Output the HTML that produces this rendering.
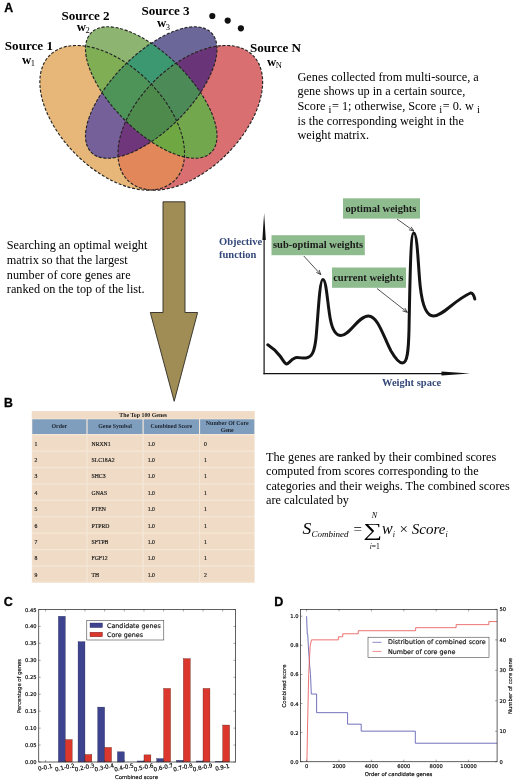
<!DOCTYPE html>
<html><head><meta charset="utf-8"><title>Figure</title>
<style>
html,body{margin:0;padding:0;background:#fff;}
svg{display:block}
.ser{font-family:"Liberation Serif",serif;}
.sans{font-family:"Liberation Sans",sans-serif;stroke:#000;stroke-width:0.3px;}
.dj{font-family:"DejaVu Sans","Liberation Sans",sans-serif;stroke:#000;stroke-width:0.15px;}
</style></head><body>
<svg width="520" height="782" viewBox="0 0 520 782">
<rect width="520" height="782" fill="#ffffff"/>

<defs>
<clipPath id="c1"><ellipse cx="112.2" cy="117.8" rx="88.4" ry="51.5" transform="rotate(45 112.2 117.8)" /></clipPath>
<clipPath id="c2"><ellipse cx="151.25" cy="92.5" rx="84.75" ry="38.2" transform="rotate(45 151.25 92.5)" /></clipPath>
<clipPath id="c3"><ellipse cx="151.25" cy="92.5" rx="84.75" ry="38.2" transform="rotate(-45 151.25 92.5)" /></clipPath>
<clipPath id="c4"><ellipse cx="190.3" cy="117.8" rx="88.4" ry="51.5" transform="rotate(-45 190.3 117.8)" /></clipPath>
</defs>
<ellipse cx="112.2" cy="117.8" rx="88.4" ry="51.5" transform="rotate(45 112.2 117.8)" fill="#E6B778"/>
<ellipse cx="151.25" cy="92.5" rx="84.75" ry="38.2" transform="rotate(45 151.25 92.5)" fill="#8DB571"/>
<ellipse cx="151.25" cy="92.5" rx="84.75" ry="38.2" transform="rotate(-45 151.25 92.5)" fill="#6C6799"/>
<ellipse cx="190.3" cy="117.8" rx="88.4" ry="51.5" transform="rotate(-45 190.3 117.8)" fill="#D96F70"/>
<g clip-path="url(#c1)"><ellipse cx="151.25" cy="92.5" rx="84.75" ry="38.2" transform="rotate(45 151.25 92.5)" fill="#7FAE55"/></g>
<g clip-path="url(#c1)"><ellipse cx="151.25" cy="92.5" rx="84.75" ry="38.2" transform="rotate(-45 151.25 92.5)" fill="#75609A"/></g>
<g clip-path="url(#c1)"><ellipse cx="190.3" cy="117.8" rx="88.4" ry="51.5" transform="rotate(-45 190.3 117.8)" fill="#E1875A"/></g>
<g clip-path="url(#c2)"><ellipse cx="151.25" cy="92.5" rx="84.75" ry="38.2" transform="rotate(-45 151.25 92.5)" fill="#3B9871"/></g>
<g clip-path="url(#c2)"><ellipse cx="190.3" cy="117.8" rx="88.4" ry="51.5" transform="rotate(-45 190.3 117.8)" fill="#72A74E"/></g>
<g clip-path="url(#c3)"><ellipse cx="190.3" cy="117.8" rx="88.4" ry="51.5" transform="rotate(-45 190.3 117.8)" fill="#6A3578"/></g>
<g clip-path="url(#c2)"><g clip-path="url(#c1)"><ellipse cx="151.25" cy="92.5" rx="84.75" ry="38.2" transform="rotate(-45 151.25 92.5)" fill="#4E9358"/></g></g>
<g clip-path="url(#c2)"><g clip-path="url(#c1)"><ellipse cx="190.3" cy="117.8" rx="88.4" ry="51.5" transform="rotate(-45 190.3 117.8)" fill="#6FA743"/></g></g>
<g clip-path="url(#c3)"><g clip-path="url(#c1)"><ellipse cx="190.3" cy="117.8" rx="88.4" ry="51.5" transform="rotate(-45 190.3 117.8)" fill="#70367B"/></g></g>
<g clip-path="url(#c3)"><g clip-path="url(#c2)"><ellipse cx="190.3" cy="117.8" rx="88.4" ry="51.5" transform="rotate(-45 190.3 117.8)" fill="#4C8A57"/></g></g>
<g clip-path="url(#c3)"><g clip-path="url(#c2)"><g clip-path="url(#c1)"><ellipse cx="190.3" cy="117.8" rx="88.4" ry="51.5" transform="rotate(-45 190.3 117.8)" fill="#4D8A4B"/></g></g></g>
<ellipse cx="112.2" cy="117.8" rx="88.4" ry="51.5" transform="rotate(45 112.2 117.8)" fill="none" stroke="#242424" stroke-width="1.15" stroke-dasharray="3 1.7"/>
<ellipse cx="190.3" cy="117.8" rx="88.4" ry="51.5" transform="rotate(-45 190.3 117.8)" fill="none" stroke="#242424" stroke-width="1.15" stroke-dasharray="3 1.7"/>
<ellipse cx="151.25" cy="92.5" rx="84.75" ry="38.2" transform="rotate(-45 151.25 92.5)" fill="none" stroke="#242424" stroke-width="1.15" stroke-dasharray="3 1.7"/>
<ellipse cx="151.25" cy="92.5" rx="84.75" ry="38.2" transform="rotate(45 151.25 92.5)" fill="none" stroke="#242424" stroke-width="1.15" stroke-dasharray="3 1.7"/>
<text x="4.2" y="11.6" class="sans" font-size="12.3" font-weight="bold" fill="#000" text-anchor="start" >A</text>
<text x="4.8" y="50.4" class="ser" font-size="13.1" font-weight="bold" fill="#000" text-anchor="start" >Source 1</text>
<text x="22" y="63.5" class="ser" font-size="12.8" font-weight="bold">w<tspan font-size="8.5" font-weight="normal" dy="2.5" dx="-0.6">1</tspan></text>
<text x="61.5" y="19.8" class="ser" font-size="13.1" font-weight="bold" fill="#000" text-anchor="start" >Source 2</text>
<text x="76.8" y="30.8" class="ser" font-size="12.8" font-weight="bold">w<tspan font-size="8.5" font-weight="normal" dy="2.5" dx="-0.6">2</tspan></text>
<text x="141.5" y="14.9" class="ser" font-size="13.1" font-weight="bold" fill="#000" text-anchor="start" >Source 3</text>
<text x="157" y="27" class="ser" font-size="12.8" font-weight="bold">w<tspan font-size="8.5" font-weight="normal" dy="2.5" dx="-0.6">3</tspan></text>
<text x="250" y="51.6" class="ser" font-size="13.1" font-weight="bold" fill="#000" text-anchor="start" >Source N</text>
<text x="267" y="65.6" class="ser" font-size="12.8" font-weight="bold">w<tspan font-size="8.5" font-weight="normal" dy="2.5" dx="-0.6">N</tspan></text>
<circle cx="212.3" cy="16" r="3.1" fill="#111"/>
<circle cx="227.7" cy="20.6" r="3.1" fill="#111"/>
<circle cx="240.9" cy="28.3" r="3.1" fill="#111"/>
<text x="297.5" y="80.6" class="ser" font-size="12.25" font-weight="normal" fill="#000" text-anchor="start" >Genes collected from multi-source, a</text>
<text x="297.5" y="95.3" class="ser" font-size="12.25" font-weight="normal" fill="#000" text-anchor="start" >gene shows up in a certain source,</text>
<text x="297.5" y="110.0" class="ser" font-size="12.25" font-weight="normal" fill="#000" text-anchor="start" >Score <tspan font-size="10.5" dy="3.2">i</tspan><tspan dy="-3.2" dx="0.6">= 1; otherwise, Score </tspan><tspan font-size="10.5" dy="3.2">i</tspan><tspan dy="-3.2" dx="0.6">= 0. w </tspan><tspan font-size="10.5" dy="3.2">i</tspan></text>
<text x="297.5" y="124.7" class="ser" font-size="12.25" font-weight="normal" fill="#000" text-anchor="start" >is the corresponding weight in the</text>
<text x="297.5" y="139.4" class="ser" font-size="12.25" font-weight="normal" fill="#000" text-anchor="start" >weight matrix.</text>
<polygon points="163,201.8 185,201.8 185,312.5 197.6,312.5 174.2,401.3 150.3,312.5 163,312.5" fill="#A08D56" stroke="#2e2a22" stroke-width="0.9" stroke-linejoin="miter"/>
<text x="6.8" y="249.4" class="ser" font-size="12.25" font-weight="normal" fill="#000" text-anchor="start" >Searching an optimal weight</text>
<text x="6.8" y="263.9" class="ser" font-size="12.25" font-weight="normal" fill="#000" text-anchor="start" >matrix so that the largest</text>
<text x="6.8" y="278.5" class="ser" font-size="12.25" font-weight="normal" fill="#000" text-anchor="start" >number of core genes are</text>
<text x="6.8" y="293.0" class="ser" font-size="12.25" font-weight="normal" fill="#000" text-anchor="start" >ranked on the top of the list.</text>
<path d="M264.1,374.2 V238" stroke="#111" stroke-width="1.2" fill="none"/>
<polygon points="264.1,213 262.4,240 265.8,240" fill="#111"/>
<path d="M263.5,373.6 H445" stroke="#111" stroke-width="1.2" fill="none"/>
<polygon points="470,373.6 441.5,371.6 441.5,375.6" fill="#111"/>
<path d="M267.8,344.8 C272,347.5 277,352 280,356 C283,360 284.5,363.5 286.5,364 C289,364 292,357.5 297,357.5 C301,357.5 303,358.5 306,358 C312,357 314.5,352 316,338 C318,318 319.5,279.5 322.9,279.5 C326.5,279.5 327.5,305 330.5,320 C332.5,330 336,335.5 341,335.5 C350,335.5 358,316 368.5,316 C378,316 384,338 391,351 C395,358 398.5,363 402.5,363 C407.5,363 408.5,350 409,330 C410,280 410.5,233 413.8,233 C417.6,233 418.3,270 420.3,287 C422.3,305 426,316 433.5,316 C443,316 453,301 470.5,293 C472.5,292.5 474,295.5 474.8,299" fill="none" stroke="#141414" stroke-width="3" stroke-linecap="round" stroke-linejoin="round"/>
<rect x="343" y="198.3" width="77" height="20.299999999999983" fill="#8FBC8E"/>
<text x="345.5" y="212" class="ser" font-size="10.5" font-weight="bold" fill="#1a1a1a" text-anchor="start" >optimal weights</text>
<rect x="271.5" y="235.2" width="93.30000000000001" height="20.0" fill="#8FBC8E"/>
<text x="273" y="247.8" class="ser" font-size="10.5" font-weight="bold" fill="#1a1a1a" text-anchor="start" >sub-optimal weights</text>
<rect x="332" y="267.5" width="74" height="20.30000000000001" fill="#8FBC8E"/>
<text x="333.2" y="280.8" class="ser" font-size="10.5" font-weight="bold" fill="#1a1a1a" text-anchor="start" >current weights</text>
<path d="M397,219 L413.8,231" stroke="#1a1a1a" stroke-width="0.75" fill="none"/>
<path d="M408.9,229.8 L413.8,231 L411.1,226.8" stroke="#1a1a1a" stroke-width="0.75" fill="none"/>
<path d="M303.8,256 L320.8,274.6" stroke="#1a1a1a" stroke-width="0.75" fill="none"/>
<path d="M316.3,272.4 L320.8,274.6 L319.1,269.9" stroke="#1a1a1a" stroke-width="0.75" fill="none"/>
<path d="M377,288.5 L407.3,312.3" stroke="#1a1a1a" stroke-width="0.75" fill="none"/>
<path d="M402.5,310.9 L407.3,312.3 L404.8,308.0" stroke="#1a1a1a" stroke-width="0.75" fill="none"/>
<text x="219" y="245.4" class="ser" font-size="10.5" font-weight="bold" fill="#34497a" text-anchor="start" >Objective</text>
<text x="219" y="257.7" class="ser" font-size="10.5" font-weight="bold" fill="#34497a" text-anchor="start" >function</text>
<text x="382" y="386.3" class="ser" font-size="10.5" font-weight="bold" fill="#34497a" text-anchor="start" >Weight space</text>
<text x="4" y="407.2" class="sans" font-size="12.3" font-weight="bold" fill="#000" text-anchor="start" >B</text>
<rect x="31.8" y="411.2" width="222.79999999999998" height="171.8" fill="#F4E7D8"/>
<rect x="31.8" y="411.2" width="222.79999999999998" height="7.4" fill="#F0DCC6"/>
<text x="143.2" y="416.6" class="ser" font-size="5.9" font-weight="bold" fill="#222" text-anchor="middle" >The Top 100 Genes</text>
<rect x="32.3" y="419.3" width="54.10000000000001" height="14.7" fill="#7F9EBD"/>
<text x="59.35" y="427.9" class="ser" font-size="5.9" font-weight="bold" fill="#1c2430" text-anchor="middle" >Order</text>
<rect x="87.6" y="419.3" width="54.900000000000006" height="14.7" fill="#7F9EBD"/>
<text x="115.05" y="427.9" class="ser" font-size="5.9" font-weight="bold" fill="#1c2430" text-anchor="middle" >Gene Symbol</text>
<rect x="143.7" y="419.3" width="55.30000000000001" height="14.7" fill="#7F9EBD"/>
<text x="171.35" y="427.9" class="ser" font-size="5.9" font-weight="bold" fill="#1c2430" text-anchor="middle" >Combined Score</text>
<rect x="200.1" y="419.3" width="54.20000000000002" height="14.7" fill="#7F9EBD"/>
<text x="227.2" y="424.7" class="ser" font-size="5.9" font-weight="bold" fill="#1c2430" text-anchor="middle" >Number Of Core</text>
<text x="227.2" y="432.0" class="ser" font-size="5.9" font-weight="bold" fill="#1c2430" text-anchor="middle" >Gene</text>
<rect x="32.3" y="435.30" width="54.10000000000001" height="15.21" fill="#F0DCC6"/>
<text x="34.599999999999994" y="445.6" class="ser" font-size="5.7" font-weight="normal" fill="#1a1a1a" text-anchor="start" stroke="#1a1a1a" stroke-width="0.18">1</text>
<rect x="87.6" y="435.30" width="54.900000000000006" height="15.21" fill="#F0DCC6"/>
<text x="91.6" y="445.6" class="ser" font-size="5.7" font-weight="normal" fill="#1a1a1a" text-anchor="start" stroke="#1a1a1a" stroke-width="0.18">NRXN1</text>
<rect x="143.7" y="435.30" width="55.30000000000001" height="15.21" fill="#F0DCC6"/>
<text x="147.7" y="445.6" class="ser" font-size="5.7" font-weight="normal" fill="#1a1a1a" text-anchor="start" stroke="#1a1a1a" stroke-width="0.18">1.0</text>
<rect x="200.1" y="435.30" width="54.20000000000002" height="15.21" fill="#F0DCC6"/>
<text x="204.1" y="445.6" class="ser" font-size="5.7" font-weight="normal" fill="#1a1a1a" text-anchor="start" stroke="#1a1a1a" stroke-width="0.18">0</text>
<rect x="32.3" y="451.71" width="54.10000000000001" height="15.21" fill="#F0DCC6"/>
<text x="34.599999999999994" y="461.99" class="ser" font-size="5.7" font-weight="normal" fill="#1a1a1a" text-anchor="start" stroke="#1a1a1a" stroke-width="0.18">2</text>
<rect x="87.6" y="451.71" width="54.900000000000006" height="15.21" fill="#F0DCC6"/>
<text x="91.6" y="461.99" class="ser" font-size="5.7" font-weight="normal" fill="#1a1a1a" text-anchor="start" stroke="#1a1a1a" stroke-width="0.18">SLC18A2</text>
<rect x="143.7" y="451.71" width="55.30000000000001" height="15.21" fill="#F0DCC6"/>
<text x="147.7" y="461.99" class="ser" font-size="5.7" font-weight="normal" fill="#1a1a1a" text-anchor="start" stroke="#1a1a1a" stroke-width="0.18">1.0</text>
<rect x="200.1" y="451.71" width="54.20000000000002" height="15.21" fill="#F0DCC6"/>
<text x="204.1" y="461.99" class="ser" font-size="5.7" font-weight="normal" fill="#1a1a1a" text-anchor="start" stroke="#1a1a1a" stroke-width="0.18">1</text>
<rect x="32.3" y="468.12" width="54.10000000000001" height="15.21" fill="#F0DCC6"/>
<text x="34.599999999999994" y="478.38" class="ser" font-size="5.7" font-weight="normal" fill="#1a1a1a" text-anchor="start" stroke="#1a1a1a" stroke-width="0.18">3</text>
<rect x="87.6" y="468.12" width="54.900000000000006" height="15.21" fill="#F0DCC6"/>
<text x="91.6" y="478.38" class="ser" font-size="5.7" font-weight="normal" fill="#1a1a1a" text-anchor="start" stroke="#1a1a1a" stroke-width="0.18">SHC3</text>
<rect x="143.7" y="468.12" width="55.30000000000001" height="15.21" fill="#F0DCC6"/>
<text x="147.7" y="478.38" class="ser" font-size="5.7" font-weight="normal" fill="#1a1a1a" text-anchor="start" stroke="#1a1a1a" stroke-width="0.18">1.0</text>
<rect x="200.1" y="468.12" width="54.20000000000002" height="15.21" fill="#F0DCC6"/>
<text x="204.1" y="478.38" class="ser" font-size="5.7" font-weight="normal" fill="#1a1a1a" text-anchor="start" stroke="#1a1a1a" stroke-width="0.18">1</text>
<rect x="32.3" y="484.53" width="54.10000000000001" height="15.21" fill="#F0DCC6"/>
<text x="34.599999999999994" y="494.77" class="ser" font-size="5.7" font-weight="normal" fill="#1a1a1a" text-anchor="start" stroke="#1a1a1a" stroke-width="0.18">4</text>
<rect x="87.6" y="484.53" width="54.900000000000006" height="15.21" fill="#F0DCC6"/>
<text x="91.6" y="494.77" class="ser" font-size="5.7" font-weight="normal" fill="#1a1a1a" text-anchor="start" stroke="#1a1a1a" stroke-width="0.18">GNAS</text>
<rect x="143.7" y="484.53" width="55.30000000000001" height="15.21" fill="#F0DCC6"/>
<text x="147.7" y="494.77" class="ser" font-size="5.7" font-weight="normal" fill="#1a1a1a" text-anchor="start" stroke="#1a1a1a" stroke-width="0.18">1.0</text>
<rect x="200.1" y="484.53" width="54.20000000000002" height="15.21" fill="#F0DCC6"/>
<text x="204.1" y="494.77" class="ser" font-size="5.7" font-weight="normal" fill="#1a1a1a" text-anchor="start" stroke="#1a1a1a" stroke-width="0.18">1</text>
<rect x="32.3" y="500.94" width="54.10000000000001" height="15.21" fill="#F0DCC6"/>
<text x="34.599999999999994" y="511.16" class="ser" font-size="5.7" font-weight="normal" fill="#1a1a1a" text-anchor="start" stroke="#1a1a1a" stroke-width="0.18">5</text>
<rect x="87.6" y="500.94" width="54.900000000000006" height="15.21" fill="#F0DCC6"/>
<text x="91.6" y="511.16" class="ser" font-size="5.7" font-weight="normal" fill="#1a1a1a" text-anchor="start" stroke="#1a1a1a" stroke-width="0.18">PTEN</text>
<rect x="143.7" y="500.94" width="55.30000000000001" height="15.21" fill="#F0DCC6"/>
<text x="147.7" y="511.16" class="ser" font-size="5.7" font-weight="normal" fill="#1a1a1a" text-anchor="start" stroke="#1a1a1a" stroke-width="0.18">1.0</text>
<rect x="200.1" y="500.94" width="54.20000000000002" height="15.21" fill="#F0DCC6"/>
<text x="204.1" y="511.16" class="ser" font-size="5.7" font-weight="normal" fill="#1a1a1a" text-anchor="start" stroke="#1a1a1a" stroke-width="0.18">1</text>
<rect x="32.3" y="517.36" width="54.10000000000001" height="15.21" fill="#F0DCC6"/>
<text x="34.599999999999994" y="527.55" class="ser" font-size="5.7" font-weight="normal" fill="#1a1a1a" text-anchor="start" stroke="#1a1a1a" stroke-width="0.18">6</text>
<rect x="87.6" y="517.36" width="54.900000000000006" height="15.21" fill="#F0DCC6"/>
<text x="91.6" y="527.55" class="ser" font-size="5.7" font-weight="normal" fill="#1a1a1a" text-anchor="start" stroke="#1a1a1a" stroke-width="0.18">PTPRD</text>
<rect x="143.7" y="517.36" width="55.30000000000001" height="15.21" fill="#F0DCC6"/>
<text x="147.7" y="527.55" class="ser" font-size="5.7" font-weight="normal" fill="#1a1a1a" text-anchor="start" stroke="#1a1a1a" stroke-width="0.18">1.0</text>
<rect x="200.1" y="517.36" width="54.20000000000002" height="15.21" fill="#F0DCC6"/>
<text x="204.1" y="527.55" class="ser" font-size="5.7" font-weight="normal" fill="#1a1a1a" text-anchor="start" stroke="#1a1a1a" stroke-width="0.18">1</text>
<rect x="32.3" y="533.77" width="54.10000000000001" height="15.21" fill="#F0DCC6"/>
<text x="34.599999999999994" y="543.94" class="ser" font-size="5.7" font-weight="normal" fill="#1a1a1a" text-anchor="start" stroke="#1a1a1a" stroke-width="0.18">7</text>
<rect x="87.6" y="533.77" width="54.900000000000006" height="15.21" fill="#F0DCC6"/>
<text x="91.6" y="543.94" class="ser" font-size="5.7" font-weight="normal" fill="#1a1a1a" text-anchor="start" stroke="#1a1a1a" stroke-width="0.18">SFTPB</text>
<rect x="143.7" y="533.77" width="55.30000000000001" height="15.21" fill="#F0DCC6"/>
<text x="147.7" y="543.94" class="ser" font-size="5.7" font-weight="normal" fill="#1a1a1a" text-anchor="start" stroke="#1a1a1a" stroke-width="0.18">1.0</text>
<rect x="200.1" y="533.77" width="54.20000000000002" height="15.21" fill="#F0DCC6"/>
<text x="204.1" y="543.94" class="ser" font-size="5.7" font-weight="normal" fill="#1a1a1a" text-anchor="start" stroke="#1a1a1a" stroke-width="0.18">1</text>
<rect x="32.3" y="550.18" width="54.10000000000001" height="15.21" fill="#F0DCC6"/>
<text x="34.599999999999994" y="560.33" class="ser" font-size="5.7" font-weight="normal" fill="#1a1a1a" text-anchor="start" stroke="#1a1a1a" stroke-width="0.18">8</text>
<rect x="87.6" y="550.18" width="54.900000000000006" height="15.21" fill="#F0DCC6"/>
<text x="91.6" y="560.33" class="ser" font-size="5.7" font-weight="normal" fill="#1a1a1a" text-anchor="start" stroke="#1a1a1a" stroke-width="0.18">FGF12</text>
<rect x="143.7" y="550.18" width="55.30000000000001" height="15.21" fill="#F0DCC6"/>
<text x="147.7" y="560.33" class="ser" font-size="5.7" font-weight="normal" fill="#1a1a1a" text-anchor="start" stroke="#1a1a1a" stroke-width="0.18">1.0</text>
<rect x="200.1" y="550.18" width="54.20000000000002" height="15.21" fill="#F0DCC6"/>
<text x="204.1" y="560.33" class="ser" font-size="5.7" font-weight="normal" fill="#1a1a1a" text-anchor="start" stroke="#1a1a1a" stroke-width="0.18">1</text>
<rect x="32.3" y="566.59" width="54.10000000000001" height="15.21" fill="#F0DCC6"/>
<text x="34.599999999999994" y="576.72" class="ser" font-size="5.7" font-weight="normal" fill="#1a1a1a" text-anchor="start" stroke="#1a1a1a" stroke-width="0.18">9</text>
<rect x="87.6" y="566.59" width="54.900000000000006" height="15.21" fill="#F0DCC6"/>
<text x="91.6" y="576.72" class="ser" font-size="5.7" font-weight="normal" fill="#1a1a1a" text-anchor="start" stroke="#1a1a1a" stroke-width="0.18">TH</text>
<rect x="143.7" y="566.59" width="55.30000000000001" height="15.21" fill="#F0DCC6"/>
<text x="147.7" y="576.72" class="ser" font-size="5.7" font-weight="normal" fill="#1a1a1a" text-anchor="start" stroke="#1a1a1a" stroke-width="0.18">1.0</text>
<rect x="200.1" y="566.59" width="54.20000000000002" height="15.21" fill="#F0DCC6"/>
<text x="204.1" y="576.72" class="ser" font-size="5.7" font-weight="normal" fill="#1a1a1a" text-anchor="start" stroke="#1a1a1a" stroke-width="0.18">2</text>
<text x="266" y="460.6" class="ser" font-size="12.25" font-weight="normal" fill="#000" text-anchor="start" >The genes are ranked by their combined scores</text>
<text x="266" y="475.2" class="ser" font-size="12.25" font-weight="normal" fill="#000" text-anchor="start" >computed from scores corresponding to the</text>
<text x="266" y="489.7" class="ser" font-size="12.25" font-weight="normal" fill="#000" text-anchor="start" >categories and their weighs. The combined scores</text>
<text x="266" y="504.2" class="ser" font-size="12.25" font-weight="normal" fill="#000" text-anchor="start" >are calculated by</text>
<text x="302.5" y="533.9" class="ser" font-style="italic" font-size="17.5">S</text>
<text x="311.5" y="536.6" class="ser" font-style="italic" font-size="9">Combined</text>
<text x="353.5" y="533.5" class="ser" font-size="15">=</text>
<text transform="translate(363.2,536.2) scale(1.42,1)" class="ser" font-size="18.5">∑</text>
<text x="374.5" y="518.2" class="ser" font-style="italic" font-size="8" text-anchor="middle">N</text>
<text x="374.8" y="548.7" class="ser" font-size="7.5" text-anchor="middle"><tspan font-style="italic">i</tspan>=1</text>
<text x="382" y="533.9" class="ser" font-style="italic" font-size="16">w<tspan font-size="8" dy="3">i</tspan></text>
<text x="399.5" y="533.9" class="ser" font-size="15">×</text>
<text x="411.8" y="533.9" class="ser" font-style="italic" font-size="15">Score<tspan font-size="8" dy="3">i</tspan></text>
<text x="3.8" y="606.3" class="sans" font-size="12.6" font-weight="bold" fill="#000" text-anchor="start" >C</text>
<rect x="58.38" y="616.28" width="6.89" height="145.72" fill="#3E4390" stroke="#23264f" stroke-width="0.35"/>
<rect x="65.27" y="739.63" width="6.89" height="22.37" fill="#DB372C" stroke="#5a1a14" stroke-width="0.35"/>
<rect x="78.06" y="641.69" width="6.89" height="120.31" fill="#3E4390" stroke="#23264f" stroke-width="0.35"/>
<rect x="84.95" y="754.54" width="6.89" height="7.46" fill="#DB372C" stroke="#5a1a14" stroke-width="0.35"/>
<rect x="97.74" y="707.10" width="6.89" height="54.90" fill="#3E4390" stroke="#23264f" stroke-width="0.35"/>
<rect x="104.63" y="747.43" width="6.89" height="14.57" fill="#DB372C" stroke="#5a1a14" stroke-width="0.35"/>
<rect x="117.42" y="751.83" width="6.89" height="10.17" fill="#3E4390" stroke="#23264f" stroke-width="0.35"/>
<rect x="137.10" y="760.98" width="6.89" height="1.02" fill="#3E4390" stroke="#23264f" stroke-width="0.35"/>
<rect x="143.99" y="754.88" width="6.89" height="7.12" fill="#DB372C" stroke="#5a1a14" stroke-width="0.35"/>
<rect x="156.78" y="758.61" width="6.89" height="3.39" fill="#3E4390" stroke="#23264f" stroke-width="0.35"/>
<rect x="163.67" y="688.46" width="6.89" height="73.54" fill="#DB372C" stroke="#5a1a14" stroke-width="0.35"/>
<rect x="176.46" y="760.31" width="6.89" height="1.69" fill="#3E4390" stroke="#23264f" stroke-width="0.35"/>
<rect x="183.35" y="658.64" width="6.89" height="103.36" fill="#DB372C" stroke="#5a1a14" stroke-width="0.35"/>
<rect x="196.14" y="760.98" width="6.89" height="1.02" fill="#3E4390" stroke="#23264f" stroke-width="0.35"/>
<rect x="203.03" y="688.46" width="6.89" height="73.54" fill="#DB372C" stroke="#5a1a14" stroke-width="0.35"/>
<rect x="215.82" y="761.32" width="6.89" height="0.68" fill="#3E4390" stroke="#23264f" stroke-width="0.35"/>
<rect x="222.71" y="725.06" width="6.89" height="36.94" fill="#DB372C" stroke="#5a1a14" stroke-width="0.35"/>
<rect x="38.7" y="609.5" width="196.8" height="152.5" fill="none" stroke="#3a3a3a" stroke-width="0.8"/>
<text x="36.5" y="764.0" class="dj" font-size="5.2" font-weight="normal" fill="#000" text-anchor="end" >0.00</text>
<text x="36.5" y="747.06" class="dj" font-size="5.2" font-weight="normal" fill="#000" text-anchor="end" >0.05</text>
<text x="36.5" y="730.11" class="dj" font-size="5.2" font-weight="normal" fill="#000" text-anchor="end" >0.10</text>
<text x="36.5" y="713.17" class="dj" font-size="5.2" font-weight="normal" fill="#000" text-anchor="end" >0.15</text>
<text x="36.5" y="696.22" class="dj" font-size="5.2" font-weight="normal" fill="#000" text-anchor="end" >0.20</text>
<text x="36.5" y="679.28" class="dj" font-size="5.2" font-weight="normal" fill="#000" text-anchor="end" >0.25</text>
<text x="36.5" y="662.33" class="dj" font-size="5.2" font-weight="normal" fill="#000" text-anchor="end" >0.30</text>
<text x="36.5" y="645.39" class="dj" font-size="5.2" font-weight="normal" fill="#000" text-anchor="end" >0.35</text>
<text x="36.5" y="628.44" class="dj" font-size="5.2" font-weight="normal" fill="#000" text-anchor="end" >0.40</text>
<text x="36.5" y="611.5" class="dj" font-size="5.2" font-weight="normal" fill="#000" text-anchor="end" >0.45</text>
<text class="dj" font-size="5.6" fill="#000" text-anchor="middle" transform="translate(45.59,769.3) rotate(-12.5)">0-0.1</text>
<text class="dj" font-size="5.6" fill="#000" text-anchor="middle" transform="translate(65.27,769.3) rotate(-12.5)">0.1-0.2</text>
<text class="dj" font-size="5.6" fill="#000" text-anchor="middle" transform="translate(84.95,769.3) rotate(-12.5)">0.2-0.3</text>
<text class="dj" font-size="5.6" fill="#000" text-anchor="middle" transform="translate(104.63,769.3) rotate(-12.5)">0.3-0.4</text>
<text class="dj" font-size="5.6" fill="#000" text-anchor="middle" transform="translate(124.31,769.3) rotate(-12.5)">0.4-0.5</text>
<text class="dj" font-size="5.6" fill="#000" text-anchor="middle" transform="translate(143.99,769.3) rotate(-12.5)">0.5-0.6</text>
<text class="dj" font-size="5.6" fill="#000" text-anchor="middle" transform="translate(163.67,769.3) rotate(-12.5)">0.6-0.7</text>
<text class="dj" font-size="5.6" fill="#000" text-anchor="middle" transform="translate(183.35,769.3) rotate(-12.5)">0.7-0.8</text>
<text class="dj" font-size="5.6" fill="#000" text-anchor="middle" transform="translate(203.03,769.3) rotate(-12.5)">0.8-0.9</text>
<text class="dj" font-size="5.6" fill="#000" text-anchor="middle" transform="translate(222.71,769.3) rotate(-12.5)">0.9-1</text>
<path d="M38.7,762.00h2 M235.5,762.00h-2 M38.7,745.06h2 M235.5,745.06h-2 M38.7,728.11h2 M235.5,728.11h-2 M38.7,711.17h2 M235.5,711.17h-2 M38.7,694.22h2 M235.5,694.22h-2 M38.7,677.28h2 M235.5,677.28h-2 M38.7,660.33h2 M235.5,660.33h-2 M38.7,643.39h2 M235.5,643.39h-2 M38.7,626.44h2 M235.5,626.44h-2 M38.7,609.50h2 M235.5,609.50h-2 M45.59,762.0v-2 M45.59,609.5v2 M65.27,762.0v-2 M65.27,609.5v2 M84.95,762.0v-2 M84.95,609.5v2 M104.63,762.0v-2 M104.63,609.5v2 M124.31,762.0v-2 M124.31,609.5v2 M143.99,762.0v-2 M143.99,609.5v2 M163.67,762.0v-2 M163.67,609.5v2 M183.35,762.0v-2 M183.35,609.5v2 M203.03,762.0v-2 M203.03,609.5v2 M222.71,762.0v-2 M222.71,609.5v2" stroke="#222" stroke-width="0.4" fill="none"/>
<text x="136.5" y="778.6" class="dj" font-size="5.3" font-weight="normal" fill="#000" text-anchor="middle" >Combined score</text>
<text class="dj" font-size="5.3" fill="#000" text-anchor="middle" transform="translate(21,686) rotate(-90)">Percentage of genes</text>
<rect x="86.8" y="620.4" width="77" height="19.6" fill="#fff" stroke="#222" stroke-width="0.5"/>
<rect x="90" y="623" width="12.5" height="4.6" fill="#3E4390" stroke="#23264f" stroke-width="0.35"/>
<rect x="90" y="632.2" width="12.5" height="4.6" fill="#DB372C" stroke="#5a1a14" stroke-width="0.35"/>
<text x="107" y="627.7" class="dj" font-size="6.36" font-weight="normal" fill="#111" text-anchor="start" >Candidate genes</text>
<text x="107" y="637.0" class="dj" font-size="6.36" font-weight="normal" fill="#111" text-anchor="start" >Core genes</text>
<text x="274.3" y="606.2" class="sans" font-size="12.6" font-weight="bold" fill="#000" text-anchor="start" >D</text>
<clipPath id="cd"><rect x="300.5" y="609.4" width="196.60000000000002" height="152.30000000000007"/></clipPath>
<path clip-path="url(#cd)" d="M306.60,616.20 L307.25,634.24 L307.73,634.24 L308.38,646.75 L309.68,665.67 L310.49,674.40 L311.30,694.04 L316.64,694.04 L316.64,712.67 L347.59,712.67 L347.59,724.16 L361.19,724.16 L361.19,731.15 L415.30,731.15 L415.30,743.22 L504.24,743.22" fill="none" stroke="#5858ad" stroke-width="0.85"/>
<path clip-path="url(#cd)" d="M306.92,761.70 L307.57,725.15 L308.71,673.37 L310.16,645.95 L311.46,639.86 L338.35,639.86 L338.35,636.81 L342.73,636.81 L342.73,633.77 L358.28,633.77 L358.28,630.72 L415.63,630.72 L415.63,627.68 L456.13,627.68 L456.13,624.63 L488.85,624.63 L488.85,621.58 L504.24,621.58" fill="none" stroke="#e85a58" stroke-width="0.85"/>
<rect x="300.5" y="609.4" width="196.60000000000002" height="152.30000000000007" fill="none" stroke="#3a3a3a" stroke-width="0.8"/>
<text x="298.5" y="763.7" class="dj" font-size="5.2" font-weight="normal" fill="#000" text-anchor="end" >0.0</text>
<text x="298.5" y="734.6" class="dj" font-size="5.2" font-weight="normal" fill="#000" text-anchor="end" >0.2</text>
<text x="298.5" y="705.5" class="dj" font-size="5.2" font-weight="normal" fill="#000" text-anchor="end" >0.4</text>
<text x="298.5" y="676.4" class="dj" font-size="5.2" font-weight="normal" fill="#000" text-anchor="end" >0.6</text>
<text x="298.5" y="647.3" class="dj" font-size="5.2" font-weight="normal" fill="#000" text-anchor="end" >0.8</text>
<text x="298.5" y="618.2" class="dj" font-size="5.2" font-weight="normal" fill="#000" text-anchor="end" >1.0</text>
<text x="499.5" y="763.7" class="dj" font-size="5.2" font-weight="normal" fill="#000" text-anchor="start" >0</text>
<text x="499.5" y="733.24" class="dj" font-size="5.2" font-weight="normal" fill="#000" text-anchor="start" >10</text>
<text x="499.5" y="702.78" class="dj" font-size="5.2" font-weight="normal" fill="#000" text-anchor="start" >20</text>
<text x="499.5" y="672.32" class="dj" font-size="5.2" font-weight="normal" fill="#000" text-anchor="start" >30</text>
<text x="499.5" y="641.86" class="dj" font-size="5.2" font-weight="normal" fill="#000" text-anchor="start" >40</text>
<text x="499.5" y="611.4" class="dj" font-size="5.2" font-weight="normal" fill="#000" text-anchor="start" >50</text>
<text x="306.6" y="767.8" class="dj" font-size="5.2" font-weight="normal" fill="#000" text-anchor="middle" >0</text>
<text x="339.0" y="767.8" class="dj" font-size="5.2" font-weight="normal" fill="#000" text-anchor="middle" >2000</text>
<text x="371.4" y="767.8" class="dj" font-size="5.2" font-weight="normal" fill="#000" text-anchor="middle" >4000</text>
<text x="403.8" y="767.8" class="dj" font-size="5.2" font-weight="normal" fill="#000" text-anchor="middle" >6000</text>
<text x="436.2" y="767.8" class="dj" font-size="5.2" font-weight="normal" fill="#000" text-anchor="middle" >8000</text>
<text x="468.6" y="767.8" class="dj" font-size="5.2" font-weight="normal" fill="#000" text-anchor="middle" >10000</text>
<path d="M300.5,761.70h2 M300.5,732.60h2 M300.5,703.50h2 M300.5,674.40h2 M300.5,645.30h2 M300.5,616.20h2 M497.1,761.70h-2 M497.1,731.24h-2 M497.1,700.78h-2 M497.1,670.32h-2 M497.1,639.86h-2 M497.1,609.40h-2 M306.60,761.7v-2 M306.60,609.4v2 M339.00,761.7v-2 M339.00,609.4v2 M371.40,761.7v-2 M371.40,609.4v2 M403.80,761.7v-2 M403.80,609.4v2 M436.20,761.7v-2 M436.20,609.4v2 M468.60,761.7v-2 M468.60,609.4v2" stroke="#222" stroke-width="0.4" fill="none"/>
<text x="398.5" y="776.0" class="dj" font-size="5.3" font-weight="normal" fill="#000" text-anchor="middle" >Order of candidate genes</text>
<text class="dj" font-size="5.3" fill="#000" text-anchor="middle" transform="translate(286,686) rotate(-90)">Combined score</text>
<text class="dj" font-size="5.3" fill="#000" text-anchor="middle" transform="translate(512.3,686) rotate(-90)">Number of core gene</text>
<rect x="368" y="637.2" width="121" height="20.3" fill="#fff" stroke="#222" stroke-width="0.5"/>
<path d="M372.5,642.3h9" stroke="#5b5bb0" stroke-width="0.7"/>
<path d="M372.5,651.4h9" stroke="#e8605c" stroke-width="0.7"/>
<text x="388" y="644.3" class="dj" font-size="6.36" font-weight="normal" fill="#111" text-anchor="start" >Distribution of combined score</text>
<text x="388" y="653.9" class="dj" font-size="6.36" font-weight="normal" fill="#111" text-anchor="start" >Number of core gene</text>
</svg></body></html>
